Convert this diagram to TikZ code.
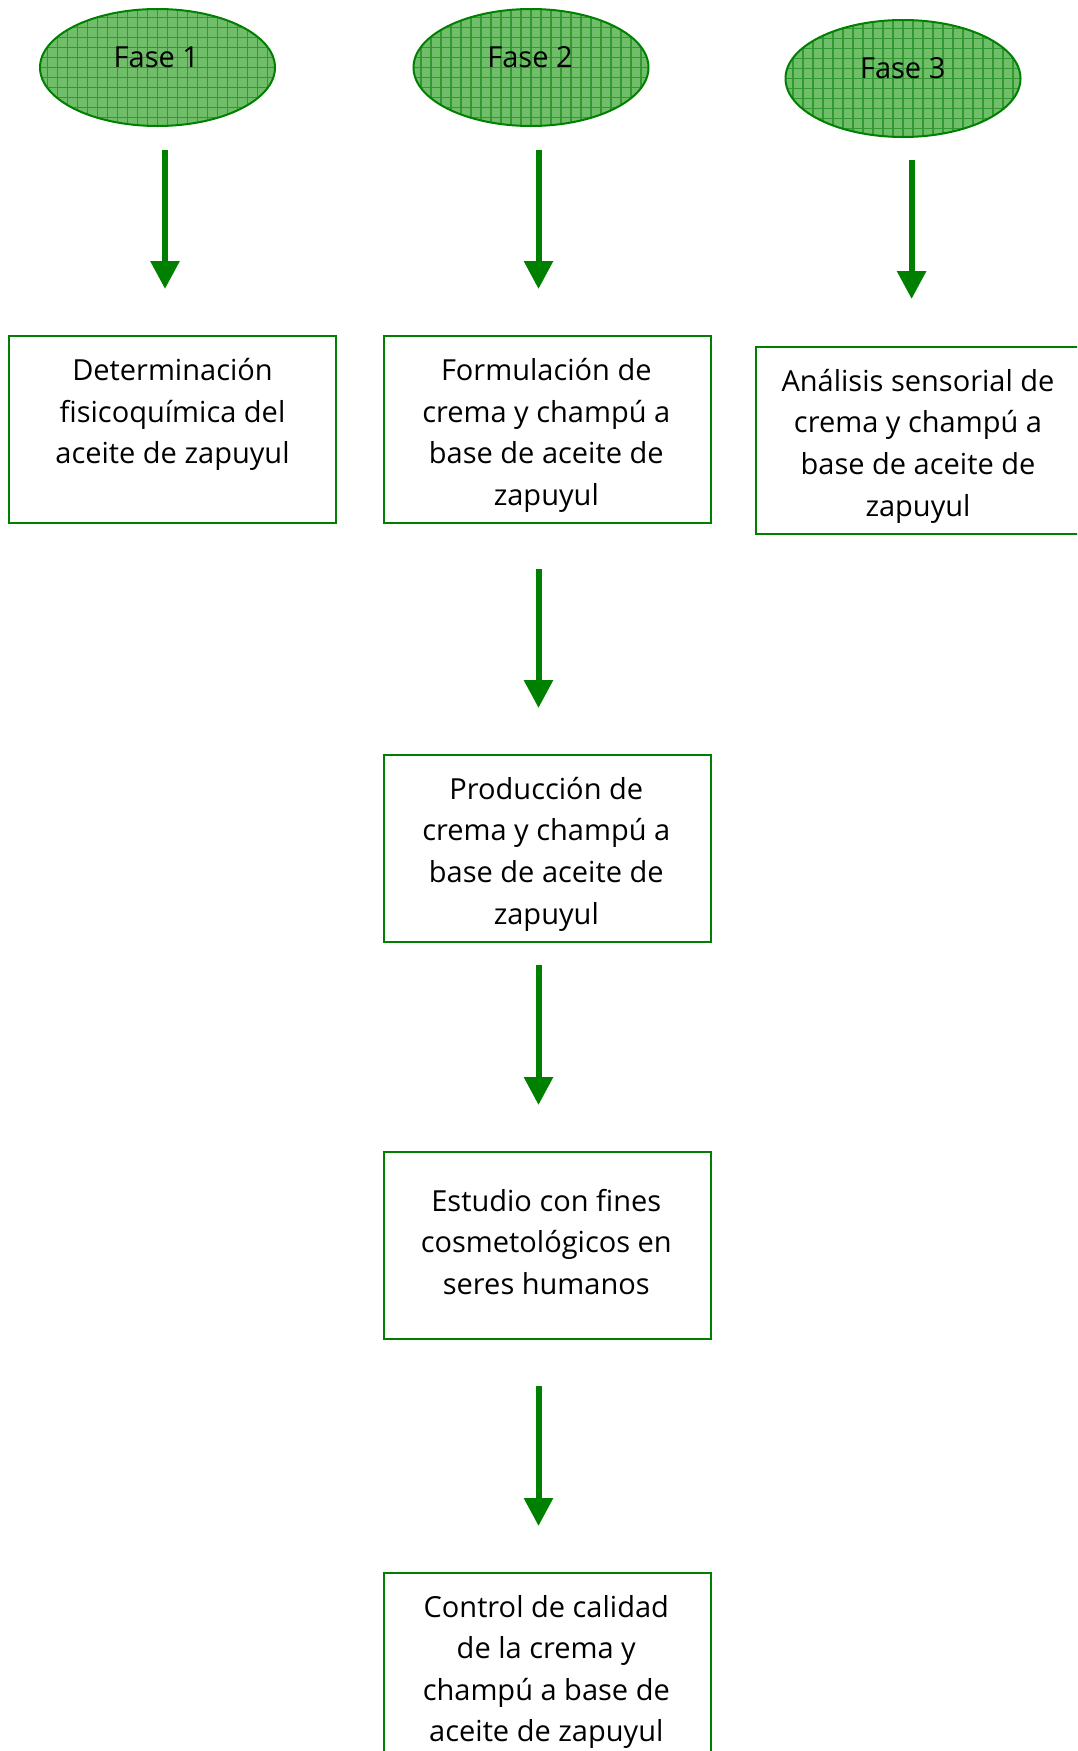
\documentclass[tikz,border=0pt]{standalone}
\usepackage{fontspec}
\setmainfont{Open Sans}
\usetikzlibrary{arrows.meta,shapes.geometric}
\definecolor{lineg}{RGB}{0,128,0}
\definecolor{fillg}{RGB}{112,190,106}
\definecolor{gridg}{RGB}{50,152,50}
\tikzset{
  boxst/.style={draw=lineg, line width=2pt, minimum width=327pt, minimum height=187pt, inner sep=0pt},
  txtst/.style={align=center, font=\fontsize{29}{41.6}\selectfont, inner sep=0pt, text=black},
  phase/.style={ellipse, draw=lineg, line width=2pt, fill=fillg, minimum width=235pt, minimum height=117pt, inner sep=0pt,
    path picture={\draw[gridg, line width=1.1pt] (path picture bounding box.south west) grid[step=10pt] (path picture bounding box.north east);}},
  flowarrow/.style={draw=lineg, line width=6pt, -{Triangle[width=28pt,length=28pt]}}
}
\begin{document}
\begin{tikzpicture}[x=1pt,y=-1pt]
\useasboundingbox (0,0) rectangle (1077,1751);
\clip (0,0) rectangle (1077,1751);
% phases
\node[phase] (e1) at (157.5,67.5) {};
\node[phase] (e2) at (531,67.5) {};
\node[phase] (e3) at (903,78.5) {};
\node[txtst] (f1) at (156.4,57) {Fase 1};
\node[txtst] (f2) at (530,57) {Fase 2};
\node[txtst] (f3) at (902.7,68) {Fase 3};
% boxes
\node[boxst] (b1) at (172.5,429.5) {};
\node[boxst] (b2) at (547,429.5) {};
\node[boxst] (b3) at (919,440.5) {};
\node[boxst] (b4) at (547,848.5) {};
\node[boxst] (b5) at (547,1245) {};
\node[boxst] (b6) at (547,1666.5) {};
\node[txtst] (t1) at (172.5,414.5) {Determinación\\fisicoquímica del\\aceite de zapuyul};
\node[txtst] (t2) at (546.3,435.5) {Formulación de\\crema y champú a\\base de aceite de\\zapuyul};
\node[txtst] (t3) at (918,446) {Análisis sensorial de\\crema y champú a\\base de aceite de\\zapuyul};
\node[txtst] (t4) at (546.3,854) {Producción de\\crema y champú a\\base de aceite de\\zapuyul};
\node[txtst] (t5) at (546.3,1242) {Estudio con fines\\cosmetológicos en\\seres humanos};
\node[txtst] (t6) at (546.3,1672) {Control de calidad\\de la crema y\\champú a base de\\aceite de zapuyul};
% arrow ends
\coordinate (a1s) at (165,150);   \coordinate (a1e) at (165,289);
\coordinate (a2s) at (538.5,150); \coordinate (a2e) at (538.5,289);
\coordinate (a3s) at (911.6,160); \coordinate (a3e) at (911.6,299);
\coordinate (a4s) at (538.5,569); \coordinate (a4e) at (538.5,708);
\coordinate (a5s) at (538.5,965); \coordinate (a5e) at (538.5,1105);
\coordinate (a6s) at (538.5,1386); \coordinate (a6e) at (538.5,1526);
\draw[flowarrow] (a1s) -- (a1e);
\draw[flowarrow] (a2s) -- (a2e);
\draw[flowarrow] (a3s) -- (a3e);
\draw[flowarrow] (a4s) -- (a4e);
\draw[flowarrow] (a5s) -- (a5e);
\draw[flowarrow] (a6s) -- (a6e);
\end{tikzpicture}
\end{document}
